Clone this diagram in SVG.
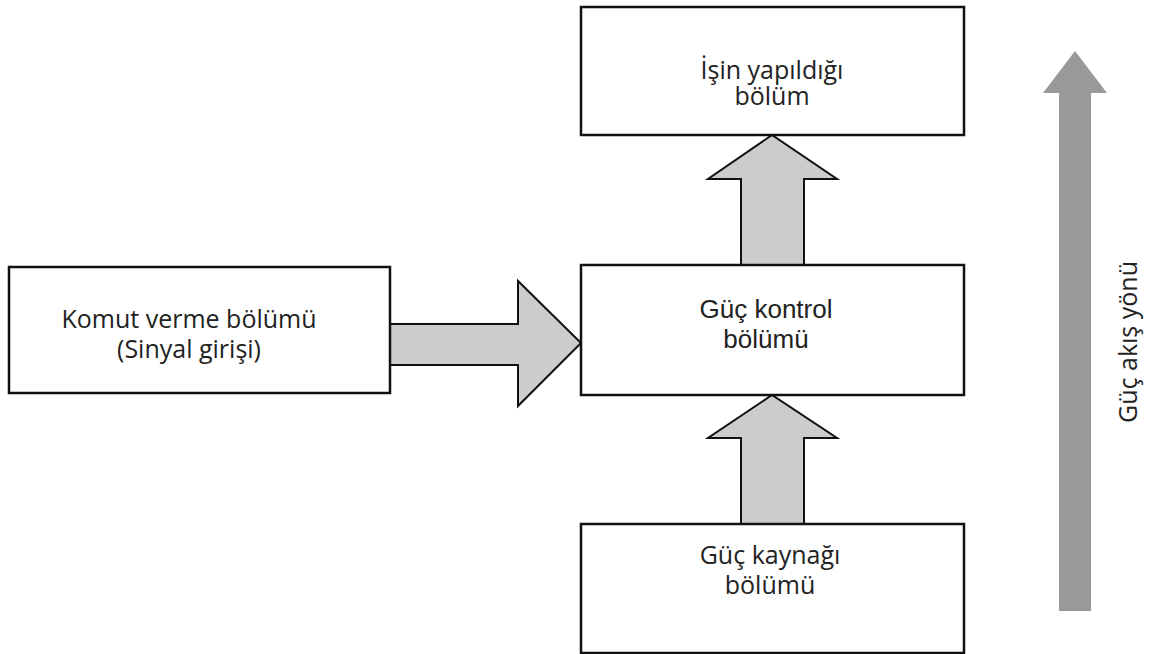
<svg xmlns="http://www.w3.org/2000/svg" width="1152" height="654" viewBox="0 0 1152 654">
  <style>
    .box { fill: #ffffff; stroke: #111111; stroke-width: 2.5; }
    .flow { fill: #cccccc; stroke: #111111; stroke-width: 2; stroke-linejoin: miter; }
    .lbl { font-family: "Open Sans", "Liberation Sans", sans-serif; font-size: 25px; fill: #222222; text-anchor: middle; }
    .lbl-arial { font-family: "Liberation Sans", Arial, sans-serif; font-size: 26px; fill: #222222; text-anchor: middle; }
  </style>
  <rect width="1152" height="654" fill="#ffffff"/>

  <!-- block arrows between sections -->
  <g id="connectors">
    <polygon class="flow" points="390,324 518,324 518,281 581,343 518,406 518,365 390,365"/>
    <polygon class="flow" points="741,265 741,179 708,179 772,135 837,179 804,179 804,265"/>
    <polygon class="flow" points="741,524 741,438 708,438 772,395 837,438 804,438 804,524"/>
  </g>

  <g id="work-section">
    <rect class="box" x="581" y="7" width="383" height="128"/>
    <text class="lbl" x="772" y="79">İşin yapıldığı</text>
    <text class="lbl" x="772" y="105">bölüm</text>
  </g>

  <g id="command-section">
    <rect class="box" x="9" y="267" width="381" height="126"/>
    <text class="lbl" x="189" y="328">Komut verme bölümü</text>
    <text class="lbl" x="189" y="358">(Sinyal girişi)</text>
  </g>

  <g id="power-control">
    <rect class="box" x="581" y="265" width="383" height="130"/>
    <text class="lbl-arial" x="766" y="318">Güç kontrol</text>
    <text class="lbl-arial" x="766" y="348">bölümü</text>
  </g>

  <g id="power-supply">
    <rect class="box" x="581" y="524" width="383" height="129"/>
    <text class="lbl" x="770" y="564">Güç kaynağı</text>
    <text class="lbl" x="770" y="594">bölümü</text>
  </g>

  <!-- overall power flow direction -->
  <g id="flow-direction">
    <polygon fill="#999999" points="1059,611 1059,93 1043,93 1075,51 1107,93 1091,93 1091,611"/>
    <text class="lbl" transform="translate(1137,342) rotate(-90)">Güç akış yönü</text>
  </g>
</svg>
